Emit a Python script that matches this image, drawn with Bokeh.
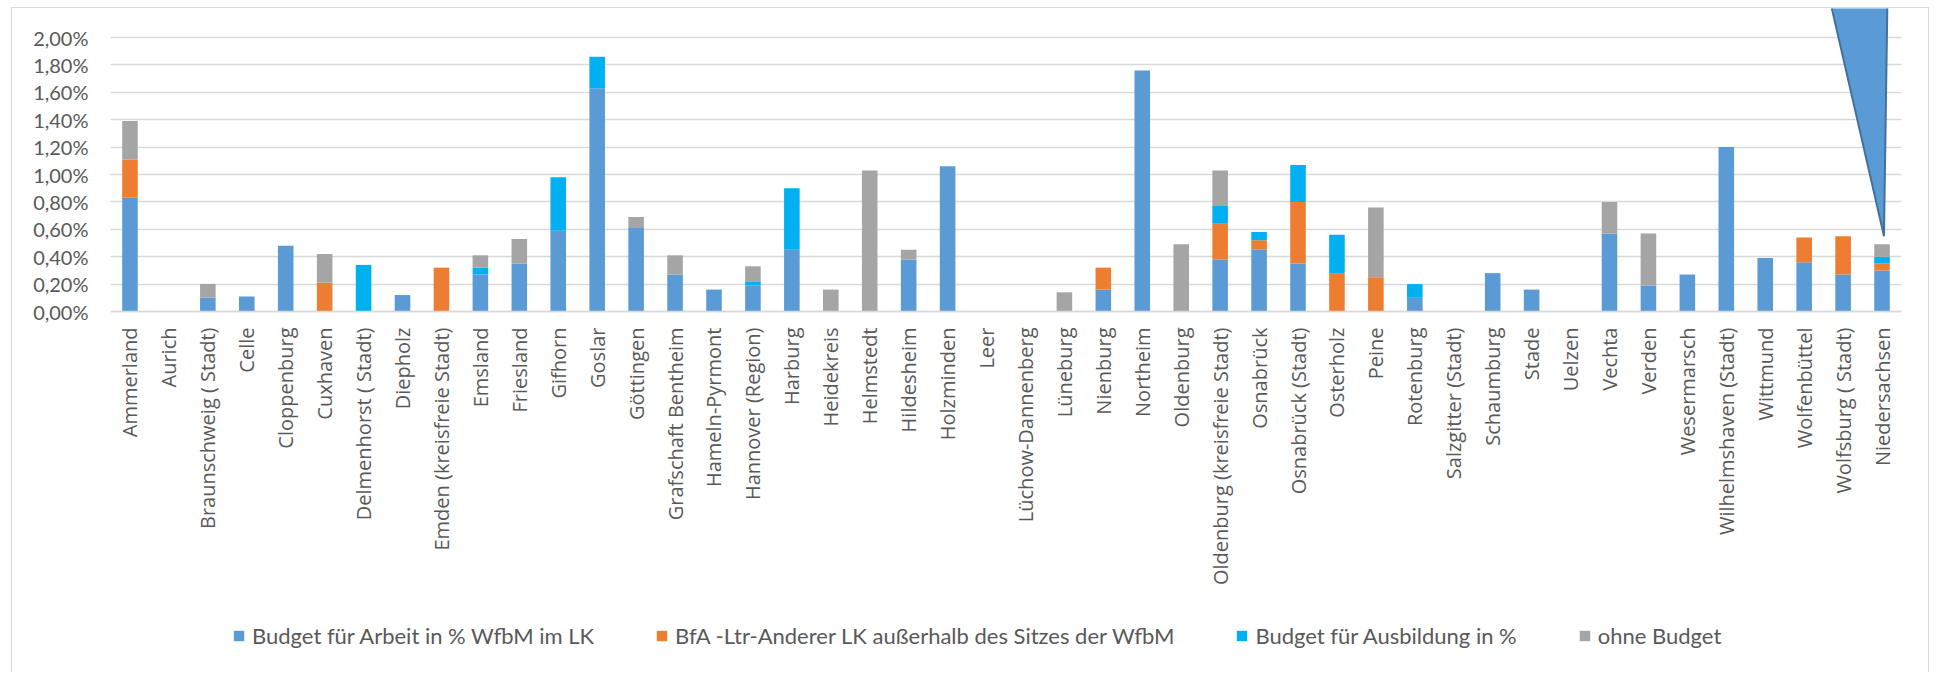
from math import pi

from bokeh.embed import file_html
from bokeh.models import (ColumnDataSource, CustomJSTickFormatter, FactorRange,
                          FixedTicker, Legend, LegendItem, Range1d)
from bokeh.plotting import figure
from bokeh.resources import INLINE

# Landkreise / kreisfreie Städte in Niedersachsen
CATEGORIES = [
    "Ammerland", "Aurich", "Braunschweig ( Stadt)", "Celle", "Cloppenburg",
    "Cuxhaven", "Delmenhorst ( Stadt)", "Diepholz", "Emden (kreisfreie Stadt)",
    "Emsland", "Friesland", "Gifhorn", "Goslar", "Göttingen",
    "Grafschaft Bentheim", "Hameln-Pyrmont", "Hannover (Region)", "Harburg",
    "Heidekreis", "Helmstedt", "Hildesheim", "Holzminden", "Leer",
    "Lüchow-Dannenberg", "Lüneburg", "Nienburg", "Northeim", "Oldenburg",
    "Oldenburg (kreisfreie Stadt)", "Osnabrück", "Osnabrück (Stadt)",
    "Osterholz", "Peine", "Rotenburg", "Salzgitter (Stadt)", "Schaumburg",
    "Stade", "Uelzen", "Vechta", "Verden", "Wesermarsch",
    "Wilhelmshaven (Stadt)", "Wittmund", "Wolfenbüttel", "Wolfsburg ( Stadt)",
    "Niedersachsen",
]

# Anteile in Prozent
BUDGET_ARBEIT = [
    0.83, 0.00, 0.10, 0.11, 0.48, 0.00, 0.00, 0.12, 0.00, 0.27,
    0.35, 0.59, 1.63, 0.61, 0.27, 0.16, 0.19, 0.45, 0.00, 0.00,
    0.38, 1.06, 0.00, 0.00, 0.00, 0.16, 1.76, 0.00, 0.38, 0.45,
    0.35, 0.00, 0.00, 0.10, 0.00, 0.28, 0.16, 0.00, 0.57, 0.19,
    0.27, 1.20, 0.39, 0.36, 0.27, 0.30,
]
ANDERER_LK = [
    0.28, 0.00, 0.00, 0.00, 0.00, 0.21, 0.00, 0.00, 0.32, 0.00,
    0.00, 0.00, 0.00, 0.00, 0.00, 0.00, 0.00, 0.00, 0.00, 0.00,
    0.00, 0.00, 0.00, 0.00, 0.00, 0.16, 0.00, 0.00, 0.26, 0.07,
    0.45, 0.28, 0.25, 0.00, 0.00, 0.00, 0.00, 0.00, 0.00, 0.00,
    0.00, 0.00, 0.00, 0.18, 0.28, 0.05,
]
AUSBILDUNG = [
    0.00, 0.00, 0.00, 0.00, 0.00, 0.00, 0.34, 0.00, 0.00, 0.05,
    0.00, 0.39, 0.23, 0.00, 0.00, 0.00, 0.03, 0.45, 0.00, 0.00,
    0.00, 0.00, 0.00, 0.00, 0.00, 0.00, 0.00, 0.00, 0.13, 0.06,
    0.27, 0.28, 0.00, 0.10, 0.00, 0.00, 0.00, 0.00, 0.00, 0.00,
    0.00, 0.00, 0.00, 0.00, 0.00, 0.05,
]
OHNE_BUDGET = [
    0.28, 0.00, 0.10, 0.00, 0.00, 0.21, 0.00, 0.00, 0.00, 0.09,
    0.18, 0.00, 0.00, 0.08, 0.14, 0.00, 0.11, 0.00, 0.16, 1.03,
    0.07, 0.00, 0.00, 0.00, 0.14, 0.00, 0.00, 0.49, 0.26, 0.00,
    0.00, 0.00, 0.51, 0.00, 0.00, 0.00, 0.00, 0.00, 0.23, 0.38,
    0.00, 0.00, 0.00, 0.00, 0.00, 0.09,
]

SERIES_KEYS = ["arbeit", "anderer_lk", "ausbildung", "ohne"]
SERIES_LABELS = [
    "Budget für Arbeit in % WfbM im LK",
    "BfA -Ltr-Anderer LK außerhalb des Sitzes der WfbM",
    "Budget für Ausbildung in %",
    "ohne Budget",
]
SERIES_COLORS = ["#5B9BD5", "#ED7D31", "#00B0F0", "#A5A5A5"]

Y_TICKS = [0.0, 0.2, 0.4, 0.6, 0.8, 1.0, 1.2, 1.4, 1.6, 1.8, 2.0]

TEXT_COLOR = "#595959"
GRID_COLOR = "#D9D9D9"

# Canvas geometry (px): the plotting frame covers the whole height so that
# the category axis and the legend sit inside it below the zero line.
PLOT_W, PLOT_H = 1918, 665
ZERO_Y = 303          # distance of the zero line from the top of the canvas
PX_PER_PCT = 137      # vertical pixels per 1 %

source = ColumnDataSource(data=dict(
    region=CATEGORIES,
    arbeit=BUDGET_ARBEIT,
    anderer_lk=ANDERER_LK,
    ausbildung=AUSBILDUNG,
    ohne=OHNE_BUDGET,
))

p = figure(
    x_range=FactorRange(factors=CATEGORIES, range_padding=0),
    y_range=Range1d(-(PLOT_H - ZERO_Y) / PX_PER_PCT, ZERO_Y / PX_PER_PCT),
    width=PLOT_W, height=PLOT_H,
    output_backend="svg", toolbar_location=None,
    min_border_left=98, min_border_right=29,
    min_border_top=0, min_border_bottom=0,
)
p.margin = (7, 0, 0, 11)
p.styles = {
    "border-top": f"1px solid {GRID_COLOR}",
    "border-left": f"1px solid {GRID_COLOR}",
    "border-right": f"1px solid {GRID_COLOR}",
}
p.outline_line_color = None
p.background_fill_color = "white"
p.border_fill_color = "white"

bars = p.vbar_stack(SERIES_KEYS, x="region", width=0.4,
                    color=SERIES_COLORS, line_color=None, source=source)

# Callout wedge pointing at the state total
idx = CATEGORIES.index("Niedersachsen") + 0.5
total = (BUDGET_ARBEIT[-1] + ANDERER_LK[-1] + AUSBILDUNG[-1] + OHNE_BUDGET[-1])
p.patch(x=[idx - 1.36, idx + 0.14, idx + 0.05],
        y=[2.3, 2.3, total + 0.06],
        fill_color="#5B9BD5", line_color="#41719C", line_width=2)

# y axis
p.yaxis.ticker = FixedTicker(ticks=Y_TICKS)
p.yaxis.formatter = CustomJSTickFormatter(
    code="return tick.toFixed(2).replace('.', ',') + '%';")
p.yaxis.axis_line_color = None
p.yaxis.major_tick_line_color = None
p.yaxis.minor_tick_line_color = None
p.yaxis.major_tick_out = 0
p.yaxis.major_label_standoff = 22
p.yaxis.major_label_text_font = "Lato"
p.yaxis.major_label_text_font_size = "20px"
p.yaxis.major_label_text_color = TEXT_COLOR

p.ygrid.ticker = FixedTicker(ticks=Y_TICKS)
p.ygrid.grid_line_color = GRID_COLOR
p.ygrid.grid_line_width = 1.3
p.xgrid.grid_line_color = None

# category axis drawn on the zero line
p.xaxis.fixed_location = 0
p.xaxis.axis_line_color = GRID_COLOR
p.xaxis.axis_line_width = 1.3
p.xaxis.major_tick_line_color = None
p.xaxis.minor_tick_line_color = None
p.xaxis.major_tick_out = 0
p.xaxis.major_label_standoff = 16
p.xaxis.major_label_orientation = pi / 2
p.xaxis.major_label_text_font = "Open Sans"
p.xaxis.major_label_text_font_size = "20px"
p.xaxis.major_label_text_color = TEXT_COLOR

legend = Legend(
    items=[LegendItem(label=lbl, renderers=[r])
           for lbl, r in zip(SERIES_LABELS, bars)],
    orientation="horizontal",
    location=(122, 24),
    glyph_width=13, glyph_height=13,
    label_standoff=7, spacing=61,
    padding=0, margin=0,
    label_height=20,
    label_text_font="Lato", label_text_font_size="22px",
    label_text_color=TEXT_COLOR,
    border_line_color=None, background_fill_alpha=0,
)
p.add_layout(legend, "center")

open("out.html", "w").write(file_html(p, INLINE))
